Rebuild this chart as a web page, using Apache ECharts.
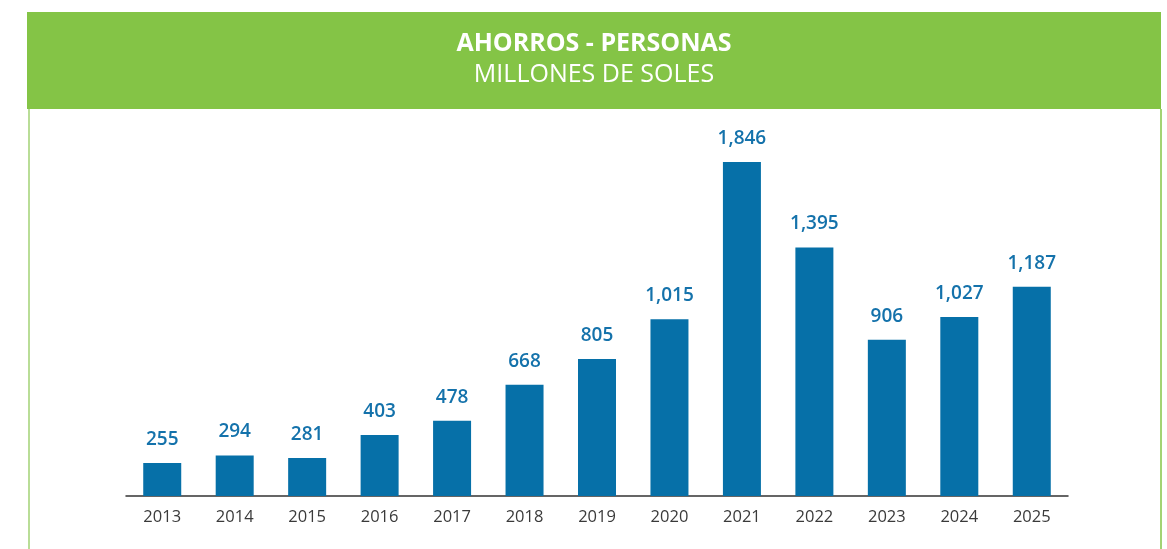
<!DOCTYPE html>
<html lang="en">
<head>
    <meta charset="UTF-8" />
    <title>Ahorros - Personas</title>
    <script src="https://cdn.jsdelivr.net/npm/echarts@6.0.0/dist/echarts.min.js"></script>
    <style>
        html, body { margin: 0; padding: 0; background: #fff; }
    </style>
</head>
<body>
    <div id="main" style="width: 1167px; height: 549px"></div>
    <script type="text/javascript">
        // chart data
        const years = ["2013", "2014", "2015", "2016", "2017", "2018", "2019",
            "2020", "2021", "2022", "2023", "2024", "2025"];
        const savings = [255, 294, 281, 403, 478, 668, 805, 1015, 1846, 1395, 906, 1027, 1187];
        const titleMain = "AHORROS - PERSONAS";
        const titleSub = "MILLONES DE SOLES";

        const green = "#84c446";
        const blue = "#0670a8";
        const font = "'Open Sans', sans-serif";

        let myChart = echarts.init(document.getElementById("main"));

        let options = {
            animation: false,
            grid: { left: 126, right: 99, top: 133, bottom: 53 },
            graphic: [
                // header band
                { type: "rect", shape: { x: 27, y: 12, width: 1134, height: 97 }, style: { fill: green }, z: -1 },
                // side borders
                { type: "line", shape: { x1: 29, y1: 109, x2: 29, y2: 549 }, style: { stroke: "#b9dd97", lineWidth: 2 } },
                { type: "line", shape: { x1: 1161, y1: 109, x2: 1161, y2: 549 }, style: { stroke: green, lineWidth: 1.5 } },
                {
                    type: "text", x: 594, y: 44,
                    style: { text: titleMain, fill: "#fff", font: "700 25px " + font, align: "center", verticalAlign: "middle" }
                },
                {
                    type: "text", x: 594, y: 75,
                    style: { text: titleSub, fill: "#fff", font: "400 25px " + font, align: "center", verticalAlign: "middle" }
                }
            ],
            xAxis: {
                type: "category",
                data: years,
                axisLine: { lineStyle: { color: "#333", width: 1.5 } },
                axisTick: { show: false },
                axisLabel: { color: "#3a3a3a", fontSize: 16.5, fontFamily: font, margin: 13 }
            },
            yAxis: {
                type: "value",
                min: 80,
                max: 2000,
                show: false,
                splitLine: { show: false }
            },
            series: [
                {
                    name: "Ahorros",
                    type: "bar",
                    data: savings,
                    barWidth: 38,
                    itemStyle: { color: blue },
                    label: {
                        show: true,
                        position: "top",
                        distance: 14,
                        color: "#1472ab",
                        fontSize: 19,
                        fontWeight: 600,
                        fontFamily: font,
                        formatter: (p) => p.value.toLocaleString("en-US")
                    }
                }
            ]
        };

        myChart.setOption(options);
    </script>
</body>
</html>
